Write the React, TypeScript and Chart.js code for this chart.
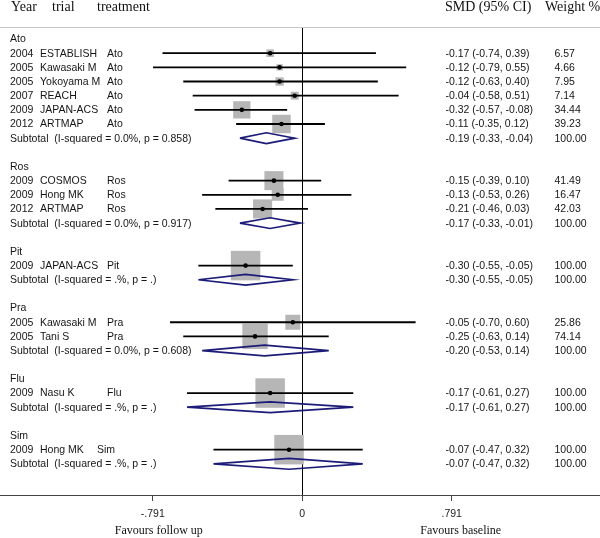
import React, { useEffect, useRef } from 'react';
import { Chart, registerables } from 'chart.js';

Chart.register(...registerables);

// ---- data ----
const groupNames = ['Ato', 'Ros', 'Pit', 'Pra', 'Flu', 'Sim'];
const studyGroup = [0, 0, 0, 0, 0, 0, 1, 1, 1, 2, 3, 3, 4, 5];
const studyYear = ['2004', '2005', '2005', '2007', '2009', '2012', '2009', '2009', '2012', '2009', '2005', '2005', '2009', '2009'];
const studyTrial = ['ESTABLISH', 'Kawasaki M', 'Yokoyama M', 'REACH', 'JAPAN-ACS', 'ARTMAP', 'COSMOS', 'Hong MK', 'ARTMAP', 'JAPAN-ACS', 'Kawasaki M', 'Tani S', 'Nasu K', 'Hong MK'];
const studyEst = [-0.17, -0.12, -0.12, -0.04, -0.32, -0.11, -0.15, -0.13, -0.21, -0.30, -0.05, -0.25, -0.17, -0.07];
const studyLo = [-0.74, -0.79, -0.63, -0.58, -0.57, -0.35, -0.39, -0.53, -0.46, -0.55, -0.70, -0.63, -0.61, -0.47];
const studyHi = [0.39, 0.55, 0.40, 0.51, -0.08, 0.12, 0.10, 0.26, 0.03, -0.05, 0.60, 0.14, 0.27, 0.32];
const studyWeight = [6.57, 4.66, 7.95, 7.14, 34.44, 39.23, 41.49, 16.47, 42.03, 100.0, 25.86, 74.14, 100.0, 100.0];
const subHet = ['0.0%, p = 0.858', '0.0%, p = 0.917', '.%, p = .', '0.0%, p = 0.608', '.%, p = .', '.%, p = .'];
const subEst = [-0.19, -0.17, -0.30, -0.20, -0.17, -0.07];
const subLo = [-0.33, -0.33, -0.55, -0.53, -0.61, -0.47];
const subHi = [-0.04, -0.01, -0.05, 0.14, 0.27, 0.32];
const subWeight = [100.0, 100.0, 100.0, 100.0, 100.0, 100.0];
const xTickValues = [-0.791, 0, 0.791];
const xTickLabels = ['-.791', '0', '.791'];
const headerLeft = ['Year', 'trial', 'treatment'];
const headerRight = ['SMD (95% CI)', 'Weight %'];
const favoursLabels = ['Favours follow up', 'Favours baseline'];

// ---- row layout ----
type RowItem = { kind: 'group' | 'study' | 'sub'; row: number; idx: number };
const rowItems: RowItem[] = [];
const studyRow: number[] = [];
const subRow: number[] = [];
let rowCounter = 0;
groupNames.forEach((_, gi) => {
  rowItems.push({ kind: 'group', row: rowCounter, idx: gi });
  rowCounter++;
  studyGroup.forEach((sg, si) => {
    if (sg === gi) {
      rowItems.push({ kind: 'study', row: rowCounter, idx: si });
      studyRow[si] = rowCounter;
      rowCounter++;
    }
  });
  rowItems.push({ kind: 'sub', row: rowCounter, idx: gi });
  subRow[gi] = rowCounter;
  rowCounter++;
  rowCounter++;
});

const fmt = (e: number, l: number, h: number) => `${e.toFixed(2)} (${l.toFixed(2)}, ${h.toFixed(2)})`;

const SANS = '"Liberation Sans", Arial, sans-serif';
const SERIF = '"Liberation Serif", "Times New Roman", serif';

const textPlugin = {
  id: 'forestText',
  afterDraw(chart: any) {
    const ctx = chart.ctx as CanvasRenderingContext2D;
    const ys = chart.scales.y;
    const xs = chart.scales.x;
    ctx.save();
    // headers
    ctx.fillStyle = '#111';
    ctx.font = `14px ${SERIF}`;
    ctx.textBaseline = 'alphabetic';
    ctx.textAlign = 'left';
    const hlX = [11, 52, 97];
    headerLeft.forEach((t, i) => ctx.fillText(t, hlX[i], 11));
    const hrX = [445, 545];
    headerRight.forEach((t, i) => ctx.fillText(t, hrX[i], 11));

    // rows
    ctx.font = `10.5px ${SANS}`;
    ctx.textBaseline = 'middle';
    ctx.fillStyle = '#151515';
    rowItems.forEach((it) => {
      const y = ys.getPixelForValue(it.row) + 0.5;
      if (it.kind === 'group') {
        ctx.fillText(groupNames[it.idx], 10, y);
      } else if (it.kind === 'study') {
        const i = it.idx;
        ctx.fillText(studyYear[i], 10, y);
        ctx.fillText(studyTrial[i], 40, y);
        ctx.fillText(groupNames[studyGroup[i]], studyGroup[i] === 5 ? 97 : 107, y);
        ctx.fillText(fmt(studyEst[i], studyLo[i], studyHi[i]), 445.5, y);
        ctx.fillText(studyWeight[i].toFixed(2), 554.5, y);
      } else {
        const g = it.idx;
        ctx.fillText(`Subtotal  (I-squared = ${subHet[g]})`, 10, y);
        ctx.fillText(fmt(subEst[g], subLo[g], subHi[g]), 445.5, y);
        ctx.fillText(subWeight[g].toFixed(2), 554.5, y);
      }
    });

    // favours labels
    ctx.font = `12px ${SERIF}`;
    ctx.textAlign = 'center';
    ctx.textBaseline = 'alphabetic';
    ctx.fillStyle = '#111';
    ctx.fillText(favoursLabels[0], xs.getPixelForValue(xTickValues[0]) + 6, 534);
    ctx.fillText(favoursLabels[1], xs.getPixelForValue(xTickValues[2]) + 9, 534);
    ctx.restore();
  },
};

export default function App() {
  const ref = useRef<HTMLCanvasElement | null>(null);
  useEffect(() => {
    if (!ref.current) return;
    const datasets: any[] = [];
    datasets.push({
      data: studyEst.map((e, i) => ({ x: e, y: studyRow[i] })),
      pointStyle: 'rect',
      pointRadius: studyWeight.map((w) => (2.95 * Math.sqrt(w)) / Math.SQRT2),
      backgroundColor: '#b6b6b6',
      borderWidth: 0,
      showLine: false,
      order: 3,
    });
    studyEst.forEach((_, i) => {
      datasets.push({
        data: [
          { x: studyLo[i], y: studyRow[i] },
          { x: studyHi[i], y: studyRow[i] },
        ],
        showLine: true,
        borderColor: '#000',
        borderWidth: 1.8,
        pointRadius: 0,
        order: 2,
      });
    });
    subEst.forEach((e, g) => {
      const y = subRow[g];
      datasets.push({
        data: [
          { x: subLo[g], y },
          { x: e, y: y - 0.38 },
          { x: subHi[g], y },
          { x: e, y: y + 0.38 },
          { x: subLo[g], y },
        ],
        showLine: true,
        borderColor: '#1c1c78',
        borderWidth: 1.7,
        pointRadius: 0,
        fill: false,
        tension: 0,
        order: 2,
      });
    });
    datasets.push({
      data: studyEst.map((e, i) => ({ x: e, y: studyRow[i] })),
      pointStyle: 'circle',
      pointRadius: 2.3,
      backgroundColor: '#000',
      borderWidth: 0,
      showLine: false,
      order: 1,
    });

    const chart = new Chart(ref.current, {
      type: 'scatter',
      data: { datasets },
      options: {
        animation: false,
        responsive: false,
        events: [],
        layout: { padding: 0, autoPadding: false },
        plugins: { legend: { display: false }, tooltip: { enabled: false } },
        scales: {
          x: {
            type: 'linear',
            position: 'bottom',
            min: -1.6,
            max: 1.576,
            afterBuildTicks: (s: any) => {
              s.ticks = xTickValues.map((v) => ({ value: v }));
            },
            afterFit: (s: any) => {
              s.height = 43;
            },
            ticks: {
              autoSkip: false,
              maxRotation: 0,
              padding: 7,
              color: '#222',
              font: { family: SANS, size: 10.5 },
              callback: (v: any) => {
                const i = xTickValues.indexOf(Number(v));
                return i >= 0 ? xTickLabels[i] : '';
              },
            },
            grid: {
              drawOnChartArea: true,
              color: (c: any) => (c.tick && c.tick.value === 0 ? '#000' : 'rgba(0,0,0,0)'),
              tickColor: '#444',
              tickLength: 6,
              lineWidth: 1,
            },
            border: { display: true, color: '#444', width: 1 },
          },
          xTop: {
            type: 'linear',
            position: 'top',
            min: -1.6,
            max: 1.576,
            afterFit: (s: any) => {
              s.height = 27;
            },
            ticks: { display: false },
            grid: { display: false, drawTicks: false },
            border: { display: true, color: '#c4c4c4', width: 1 },
          },
          y: {
            type: 'linear',
            display: false,
            reverse: true,
            min: -0.85,
            max: 32.2,
          },
        },
      },
      plugins: [textPlugin],
    } as any);
    return () => chart.destroy();
  }, []);

  return (
    <div style={{ position: 'absolute', left: 0, top: 0, width: 600, height: 538, background: '#fff' }}>
      <canvas ref={ref} width={600} height={538} />
    </div>
  );
}
